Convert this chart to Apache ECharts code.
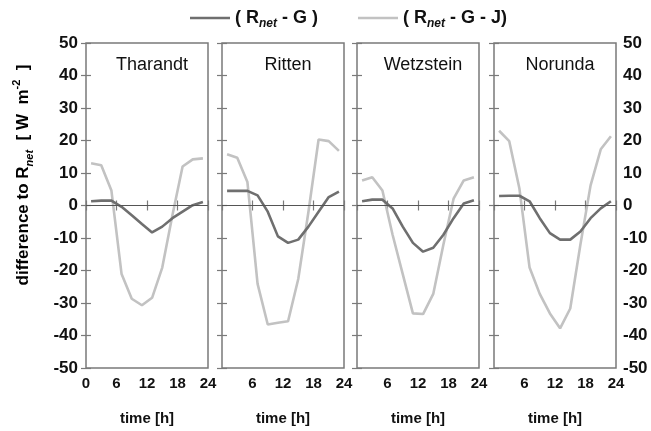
<!DOCTYPE html>
<html>
<head>
<meta charset="utf-8">
<script src="https://cdn.jsdelivr.net/npm/echarts@6/dist/echarts.min.js"></script>
<style>html,body{margin:0;padding:0;background:#fff}#c{width:651px;height:431px}</style>
</head>
<body>
<div id="c"></div>
<script>
// ---- data ----
const hours = [1, 3, 5, 7, 9, 11, 13, 15, 17, 19, 21, 23];
const sites = ['Tharandt', 'Ritten', 'Wetzstein', 'Norunda'];
const xTicks = [0, 6, 12, 18, 24];
const yTicks = [-50, -40, -30, -20, -10, 0, 10, 20, 30, 40, 50];

const rg_Tharandt  = [1.3, 1.5, 1.5, -0.4, -3.0, -5.7, -8.3, -6.5, -3.9, -1.9, 0.1, 1.1];
const rgj_Tharandt = [13.0, 12.4, 4.6, -21.1, -28.7, -30.7, -28.4, -19.1, -3.0, 12.0, 14.2, 14.5];

const rg_Ritten  = [4.5, 4.5, 4.5, 3.1, -1.9, -9.5, -11.5, -10.5, -6.5, -1.9, 2.6, 4.3];
const rgj_Ritten = [15.8, 14.7, 7.2, -24.1, -36.6, -36.1, -35.6, -22.6, -2.0, 20.3, 19.8, 16.8];

const rg_Wetzstein  = [1.3, 1.8, 1.8, -0.9, -6.5, -11.5, -14.2, -13.0, -9.0, -3.9, 0.6, 1.6];
const rgj_Wetzstein = [7.7, 8.7, 4.6, -9.0, -21.1, -33.2, -33.4, -27.2, -12.0, 2.1, 7.7, 8.7];

const rg_Norunda  = [2.9, 3.0, 3.0, 1.3, -3.9, -8.5, -10.5, -10.5, -8.0, -3.9, -0.9, 1.3];
const rgj_Norunda = [23.0, 19.8, 5.2, -19.1, -27.2, -33.2, -37.8, -31.7, -12.0, 6.2, 17.3, 21.3];

const rgSeries  = [rg_Tharandt, rg_Ritten, rg_Wetzstein, rg_Norunda];
const rgjSeries = [rgj_Tharandt, rgj_Ritten, rgj_Wetzstein, rgj_Norunda];

// ---- layout ----
const gridLefts = [86, 222, 357, 494];
const gridW = 122, gridTop = 43, gridH = 330;
const darkC = '#6f6f6f', lightC = '#c2c2c2', borderC = '#7a7a7a';
const FONT = 'Liberation Sans, Arial, sans-serif';

const grids = [], xAxes = [], yAxes = [], series = [], titles = [];
sites.forEach((s, i) => {
  grids.push({left: gridLefts[i], top: gridTop, width: gridW, height: gridH,
    show: true, borderColor: borderC, borderWidth: 1.5, backgroundColor: '#fff'});
  xAxes.push({gridIndex: i, type: 'value', min: 0, max: 24, interval: 6, position: 'bottom',
    axisLine: {show: false}, splitLine: {show: false},
    axisTick: {show: true, inside: true, length: 5, lineStyle: {color: borderC, width: 1.2}},
    axisLabel: {show: true, showMinLabel: i === 0, margin: 8, color: '#111',
      fontFamily: FONT, fontWeight: 'bold', fontSize: 15},
    name: 'time [h]', nameLocation: 'middle', nameGap: 43,
    nameTextStyle: {fontFamily: FONT, fontWeight: 'bold', fontSize: 15, color: '#111'}});
  xAxes.push({gridIndex: i, type: 'value', min: 0, max: 24, interval: 6, position: 'top',
    axisLine: {show: false}, splitLine: {show: false},
    axisTick: {show: true, inside: true, length: 5, lineStyle: {color: borderC, width: 1.2}},
    axisLabel: {show: false}});
  yAxes.push({gridIndex: i, type: 'value', min: -50, max: 50, interval: 10, position: 'left',
    axisLine: {show: false}, splitLine: {show: false},
    axisTick: {show: true, inside: true, length: 5, lineStyle: {color: borderC, width: 1.2}},
    axisLabel: {show: i === 0, margin: 8, color: '#111', fontFamily: FONT, fontWeight: 'bold', fontSize: 17}});
  yAxes.push({gridIndex: i, type: 'value', min: -50, max: 50, interval: 10, position: 'right',
    axisLine: {show: false}, splitLine: {show: false},
    axisTick: {show: true, inside: true, length: 5, lineStyle: {color: borderC, width: 1.2}},
    axisLabel: {show: i === 3, margin: 7, color: '#111', fontFamily: FONT, fontWeight: 'bold', fontSize: 17}});

  series.push({name: 'rg', type: 'line', xAxisIndex: 2 * i, yAxisIndex: 2 * i,
    data: hours.map((h, k) => [h, rgSeries[i][k]]), symbol: 'none', z: 4,
    color: darkC, lineStyle: {color: darkC, width: 2.6},
    markLine: {silent: true, symbol: 'none', label: {show: false},
      lineStyle: {color: '#555', width: 1, type: 'solid'}, data: [{yAxis: 0}]}});
  series.push({name: 'rgj', type: 'line', xAxisIndex: 2 * i, yAxisIndex: 2 * i,
    data: hours.map((h, k) => [h, rgjSeries[i][k]]), symbol: 'none', z: 3,
    color: lightC, lineStyle: {color: lightC, width: 2.6}});

  titles.push({text: s, left: gridLefts[i] + gridW / 2, top: 51, textAlign: 'center',
    textStyle: {fontFamily: FONT, fontWeight: 'normal', fontSize: 18, color: '#111'}});
});

const baseTxt = {fontFamily: FONT, fontWeight: 'bold', color: '#111'};

const chart = echarts.init(document.getElementById('c'), null, {renderer: 'canvas'});
chart.setOption({
  backgroundColor: '#fff',
  animation: false,
  title: titles,
  legend: {
    left: 185, top: 4, itemWidth: 40, itemHeight: 2.5, itemGap: 40, icon: 'rect',
    data: ['rg', 'rgj'],
    formatter: n => n === 'rg' ? '{a|( R}{s|net}{a| - G )}' : '{a|( R}{s|net}{a| - G - J)}',
    textStyle: Object.assign({}, baseTxt, {fontSize: 18,
      rich: {
        a: Object.assign({}, baseTxt, {fontSize: 18, lineHeight: 24, verticalAlign: 'middle'}),
        s: Object.assign({}, baseTxt, {fontSize: 12, fontStyle: 'italic', lineHeight: 8, verticalAlign: 'bottom'})
      }})
  },
  graphic: [{
    type: 'text', x: 23, y: 175, rotation: Math.PI / 2,
    style: {
      text: '{a|difference to R}{s|net}{a|  [ W  m}{p|-2}{a|  ]}',
      align: 'center', verticalAlign: 'middle',
      rich: {
        a: Object.assign({}, baseTxt, {fontSize: 17, lineHeight: 24, verticalAlign: 'middle'}),
        s: Object.assign({}, baseTxt, {fontSize: 11, fontStyle: 'italic', lineHeight: 8, verticalAlign: 'bottom'}),
        p: Object.assign({}, baseTxt, {fontSize: 11, lineHeight: 8, verticalAlign: 'top'})
      }
    }
  }],
  grid: grids,
  xAxis: xAxes,
  yAxis: yAxes,
  series: series
});
</script>
</body>
</html>
